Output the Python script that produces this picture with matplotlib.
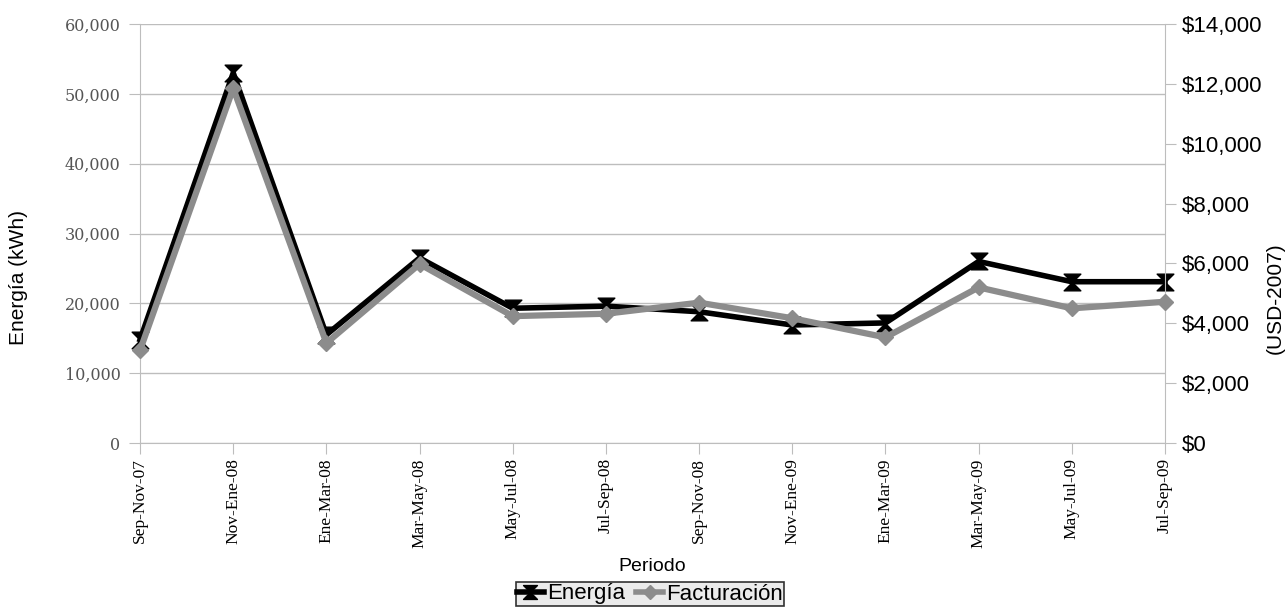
import matplotlib
matplotlib.use("Agg")
import matplotlib.pyplot as plt
from matplotlib.path import Path
from matplotlib.ticker import FuncFormatter, MultipleLocator
from matplotlib.lines import Line2D

periodos = ["Sep-Nov-07", "Nov-Ene-08", "Ene-Mar-08", "Mar-May-08", "May-Jul-08",
            "Jul-Sep-08", "Sep-Nov-08", "Nov-Ene-09", "Ene-Mar-09", "Mar-May-09",
            "May-Jul-09", "Jul-Sep-09"]
energia_kwh = [14800, 53000, 15500, 26500, 19300, 19600, 18800, 16900, 17200, 26000, 23100, 23100]
facturacion_usd = [3100, 11850, 3340, 5980, 4240, 4320, 4690, 4170, 3530, 5200, 4500, 4720]

# hourglass marker: two triangles meeting at their tips
hourglass = Path([(-1, 1), (1, 1), (-1, -1), (1, -1), (-1, 1)],
                 [Path.MOVETO, Path.LINETO, Path.LINETO, Path.LINETO, Path.CLOSEPOLY])

fig = plt.figure(figsize=(12.86, 6.16), dpi=100)
ax = fig.add_axes([0.1089, 0.2808, 0.7970, 0.6802])
ax2 = ax.twinx()

x = list(range(len(periodos)))
grid_c = "#bdbdbd"

ax.plot(x, energia_kwh, color="black", lw=4, marker=hourglass, ms=12,
        markerfacecolor="black", markeredgecolor="black", zorder=3, clip_on=False)
ax2.plot(x, facturacion_usd, color="#8c8c8c", lw=4.5, marker="D", ms=8,
         markerfacecolor="#8c8c8c", markeredgecolor="#8c8c8c", zorder=3, clip_on=False)

ax.set_xlim(0, len(periodos) - 1)
ax.set_ylim(0, 60000)
ax2.set_ylim(0, 14000)
ax.yaxis.set_major_locator(MultipleLocator(10000))
ax2.yaxis.set_major_locator(MultipleLocator(2000))
ax.yaxis.set_major_formatter(FuncFormatter(lambda v, p: f"{int(v):,}"))
ax2.yaxis.set_major_formatter(FuncFormatter(lambda v, p: f"${int(v):,}"))

ax.set_xticks(x)
ax.set_xticklabels(periodos, rotation=90, fontfamily="Liberation Serif", fontsize=12.5)
for lbl in ax.get_yticklabels():
    lbl.set_fontfamily("DejaVu Serif")
    lbl.set_fontsize(11.5)
    lbl.set_color("#555555")
for lbl in ax2.get_yticklabels():
    lbl.set_fontfamily("Liberation Sans")
    lbl.set_fontsize(16)

ax.grid(axis="y", color=grid_c, lw=1)
ax.set_axisbelow(True)
for a in (ax, ax2):
    for s in a.spines.values():
        s.set_visible(False)
ax.spines["left"].set_visible(True)
ax.spines["left"].set_color(grid_c)
ax.spines["bottom"].set_visible(True)
ax.spines["bottom"].set_color(grid_c)
ax2.spines["right"].set_visible(True)
ax2.spines["right"].set_color(grid_c)

ax.tick_params(axis="y", length=8, color=grid_c, pad=6)
ax.tick_params(axis="x", length=8, color=grid_c, pad=3)
ax2.tick_params(axis="y", length=8, color=grid_c, pad=4)

ax.set_ylabel("Energía (kWh)", fontfamily="Liberation Sans", fontsize=15)
ax.yaxis.set_label_coords(-0.1093, 0.396)
ax2.set_ylabel("(USD-2007)", fontfamily="Liberation Sans", fontsize=15)
ax2.yaxis.set_label_coords(1.0986, 0.346)
ax.set_xlabel("Periodo", fontfamily="Liberation Sans", fontsize=14)
ax.xaxis.set_label_coords(0.5, -0.2745)

handles = [
    Line2D([], [], color="black", lw=4, marker=hourglass, ms=10),
    Line2D([], [], color="#8c8c8c", lw=4, marker="D", ms=7),
]
leg = fig.legend(handles, ["Energía", "Facturación"], loc="center",
                 bbox_to_anchor=(650 / 1286, 1 - 594 / 616), ncol=2,
                 prop={"family": "Liberation Sans", "size": 16},
                 frameon=True, fancybox=False, handlelength=1.2, handletextpad=0.15,
                 columnspacing=0.5, borderpad=0.05, borderaxespad=0)
leg.get_frame().set_facecolor("#e6e6e6")
leg.get_frame().set_edgecolor("black")
leg.get_frame().set_linewidth(1.2)

fig.savefig("out.png", dpi=100)
